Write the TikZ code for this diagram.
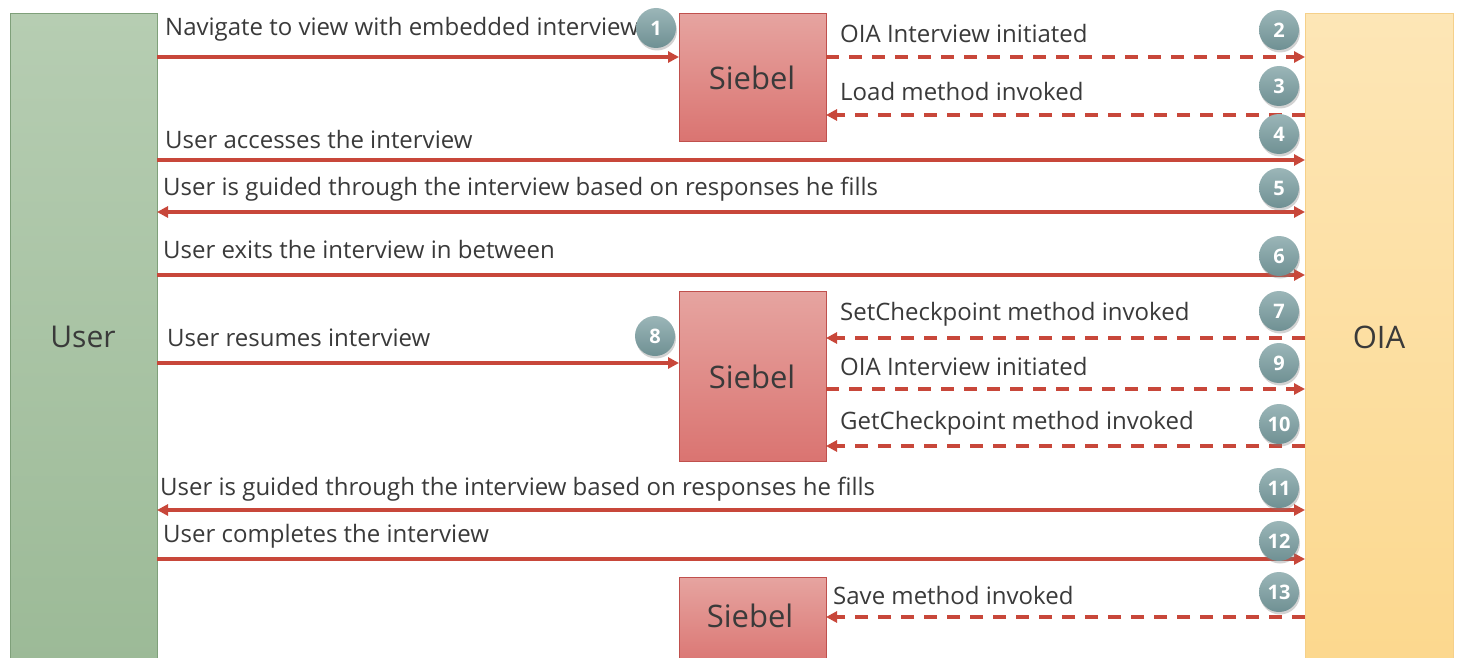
\documentclass[tikz,border=0pt]{standalone}
\usepackage{fontspec}
\setmainfont{Open Sans}
\usetikzlibrary{arrows.meta,shadows}
\definecolor{arr}{HTML}{C8473A}
\definecolor{txt}{HTML}{3A3A3A}
\definecolor{badgeT}{HTML}{9BB6B8}
\definecolor{badgeB}{HTML}{6F9093}
\definecolor{ugreenT}{HTML}{B6CDB2}
\definecolor{ugreenB}{HTML}{9CBA97}
\definecolor{ugreenD}{HTML}{7FA07A}
\definecolor{oiaT}{HTML}{FDE6B6}
\definecolor{oiaB}{HTML}{FCD88E}
\definecolor{oiaD}{HTML}{F5D08A}
\definecolor{sT}{HTML}{E6A4A0}
\definecolor{sB}{HTML}{DA7471}
\definecolor{sD}{HTML}{C0504D}
\tikzset{
  lane/.style={line width=0.8pt, anchor=north west, inner sep=0pt},
  sieb/.style={draw=sD, line width=0.6pt, top color=sT, bottom color=sB, anchor=north west, inner sep=0pt, minimum width=147pt},
  big/.style={text=txt, font=\fontsize{31}{34}\selectfont},
  lbl/.style={anchor=west, inner sep=0pt, text=txt, font=\fontsize{24}{28}\selectfont},
  solidarr/.style={draw=arr, line width=3.4pt, -{Triangle[length=11pt,width=11pt]}},
  botharr/.style={draw=arr, line width=3.4pt, {Triangle[length=11pt,width=11pt]}-{Triangle[length=11pt,width=11pt]}},
  dasharr/.style={draw=arr, line width=3.4pt, dash pattern=on 13pt off 10pt, -{Triangle[length=11pt,width=11pt]}},
  num/.style={circle, inner sep=0pt, minimum size=40pt, top color=badgeT, bottom color=badgeB, text=white, font=\bfseries\fontsize{20}{23}\selectfont, drop shadow={shadow xshift=1pt, shadow yshift=-2.5pt, opacity=0.35}}
}
\begin{document}
\begin{tikzpicture}[x=1pt,y=-1pt]
\useasboundingbox[fill=white] (0,0) rectangle (1458,658);
% lanes
\node[lane, draw=ugreenD, top color=ugreenT, bottom color=ugreenB, minimum width=147pt, minimum height=650pt] (user) at (10,13) {};
\node[big, font=\fontsize{30}{34}\selectfont] (userl) at (83,337) {User};
\node[lane, draw=oiaD, top color=oiaT, bottom color=oiaB, minimum width=148pt, minimum height=650pt] (oia) at (1305,13) {};
\node[big] (oial) at (1379,337) {OIA};
% siebel boxes
\node[sieb, minimum height=128pt] (s1) at (679,13) {};
\node[big] (s1l) at (752,78) {Siebel};
\node[sieb, minimum height=170pt] (s2) at (679,291) {};
\node[big] (s2l) at (752,377) {Siebel};
\node[sieb, minimum height=90pt] (s3) at (679,577) {};
\node[big] (s3l) at (750,616) {Siebel};
% coordinates on lanes
\foreach \n/\y in {a/57,b/115,c/160,d/212,e/275,f/338,g/363,h/389,i/446,j/510,k/559,l/617}{
  \coordinate (u\n) at (157,\y);
  \coordinate (o\n) at (1305,\y);
  \coordinate (sl\n) at (679,\y);
  \coordinate (sr\n) at (826,\y);
}
% arrows
\draw[solidarr] (ua) -- (sla);
\draw[dasharr] (sra) -- (oa);
\draw[dasharr] (ob) -- (srb);
\draw[solidarr] (uc) -- (oc);
\draw[botharr] (ud) -- (od);
\draw[solidarr] (ue) -- (oe);
\draw[dasharr] (of) -- (srf);
\draw[solidarr] (ug) -- (slg);
\draw[dasharr] (srh) -- (oh);
\draw[dasharr] (oi) -- (sri);
\draw[botharr] (uj) -- (oj);
\draw[solidarr] (uk) -- (ok);
\draw[dasharr] (ol) -- (srl);
% labels
\node[lbl] (t1) at (165,29) {Navigate to view with embedded interview};
\node[lbl] (t2) at (840,34) {OIA Interview initiated};
\node[lbl] (t3) at (840,92) {Load method invoked};
\node[lbl] (t4) at (165,139) {User accesses the interview};
\node[lbl] (t5) at (163,189) {User is guided through the interview based on responses he fills};
\node[lbl] (t6) at (163,249) {User exits the interview in between};
\node[lbl] (t7) at (840,314) {SetCheckpoint method invoked};
\node[lbl] (t8) at (167,338) {User resumes interview};
\node[lbl] (t9) at (840,366) {OIA Interview initiated};
\node[lbl] (t10) at (840,423) {GetCheckpoint method invoked};
\node[lbl] (t11) at (160,489) {User is guided through the interview based on responses he fills};
\node[lbl] (t12) at (163,536) {User completes the interview};
\node[lbl] (t13) at (833,595) {Save method invoked};
% badges
\node[num] (n1) at (656,28) {1};
\node[num] (n2) at (1279,30) {2};
\node[num] (n3) at (1279,86) {3};
\node[num] (n4) at (1279,134) {4};
\node[num] (n5) at (1279,188) {5};
\node[num] (n6) at (1279,256) {6};
\node[num] (n7) at (1279,311) {7};
\node[num] (n8) at (655,336) {8};
\node[num] (n9) at (1279,363) {9};
\node[num] (n10) at (1279,424) {10};
\node[num] (n11) at (1279,488) {11};
\node[num] (n12) at (1279,541) {12};
\node[num] (n13) at (1279,592) {13};
\end{tikzpicture}
\end{document}
